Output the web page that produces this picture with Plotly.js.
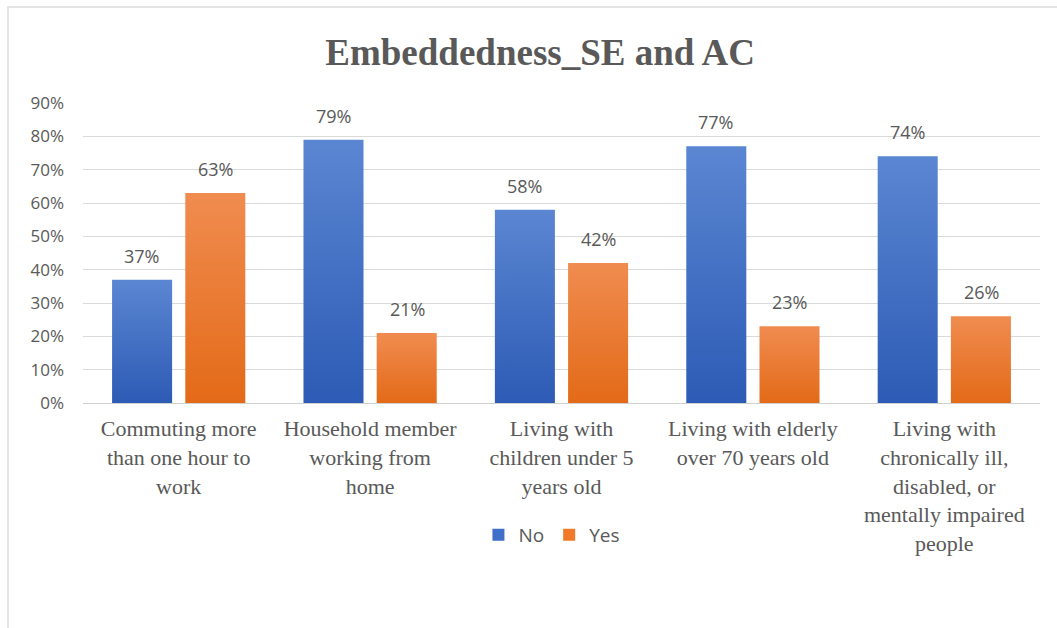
<!DOCTYPE html>
<html>
<head>
<meta charset="utf-8">
<script src="https://cdn.plot.ly/plotly-3.0.1.min.js"></script>
<style>
  html, body { margin: 0; padding: 0; background: #fff; }
  #wrap { position: relative; width: 1057px; height: 628px; }
  #chart { width: 1057px; height: 628px; }
  #frame { position: absolute; left: 7px; top: 6px; right: -4px; bottom: -4px;
           border-top: 2px solid #e4e4e4; border-left: 2px solid #e4e4e4; pointer-events: none; }
</style>
</head>
<body>
<div id="wrap">
  <div id="chart"></div>
  <div id="frame"></div>
</div>
<script>
// Survey categories and shares of respondents
const categories = [
  "Commuting more<br>than one hour to<br>work",
  "Household member<br>working from<br>home",
  "Living with<br>children under 5<br>years old",
  "Living with elderly<br>over 70 years old",
  "Living with<br>chronically ill,<br>disabled, or<br>mentally impaired<br>people"
];
const noValues  = [0.37, 0.79, 0.58, 0.77, 0.74];
const yesValues = [0.63, 0.21, 0.42, 0.23, 0.26];
const seriesNames = ["No", "Yes"];
const yTicks = [0, 0.1, 0.2, 0.3, 0.4, 0.5, 0.6, 0.7, 0.8, 0.9];

const blue = "#3f6fcb";
const orange = "#f07a2a";
const sansFamily = "Open Sans, Liberation Sans, sans-serif";
const serifFamily = "Liberation Serif, Times New Roman, serif";
const labelFont = { family: sansFamily, size: 18, color: "#595959" };

const traces = [
  { type: "bar", name: seriesNames[0], x: categories, y: noValues, marker: { color: blue }, hoverinfo: "skip" },
  { type: "bar", name: seriesNames[1], x: categories, y: yesValues, marker: { color: orange }, hoverinfo: "skip" }
];

// value labels above each bar, shifted to the bar's slot in the group
const annotations = [];
const slotShift = 37;
[noValues, yesValues].forEach((vals, s) => {
  vals.forEach((v, i) => {
    annotations.push({
      x: categories[i], y: v, xref: "x", yref: "y",
      text: Math.round(v * 100) + "%",
      showarrow: false, yanchor: "bottom", yshift: 10,
      xshift: s === 0 ? -slotShift : slotShift,
      font: labelFont
    });
  });
});

const layout = {
  width: 1057, height: 628,
  margin: { l: 83, r: 17, t: 103, b: 225 },
  paper_bgcolor: "#ffffff", plot_bgcolor: "#ffffff",
  title: {
    text: "<b>Embeddedness_SE and AC</b>",
    font: { family: serifFamily, size: 37, color: "#595959" },
    x: 0.511, xref: "container", xanchor: "center",
    y: 0.917, yref: "container", yanchor: "middle"
  },
  barmode: "group",
  bargap: 0.235,
  bargroupgap: 0.18,
  xaxis: {
    tickfont: { family: serifFamily, size: 22, color: "#595959" },
    showline: true, linecolor: "#d0d0d0", linewidth: 1,
    ticks: "", showgrid: false, fixedrange: true, ticklabelstandoff: 6
  },
  yaxis: {
    range: [0, 0.9], tickvals: yTicks, tickformat: ".0%",
    tickfont: { family: sansFamily, size: 17, color: "#595959" },
    gridcolor: "#dadada", gridwidth: 1, zeroline: false,
    showline: false, ticks: "", ticklabelstandoff: 18, fixedrange: true
  },
  legend: {
    orientation: "h", x: 0.49, xanchor: "center", y: -0.44, yanchor: "middle",
    font: { family: sansFamily, size: 19, color: "#595959" },
    itemwidth: 30, traceorder: "normal"
  },
  annotations: annotations,
  showlegend: true
};

Plotly.newPlot("chart", traces, layout, { displayModeBar: false, staticPlot: true }).then(gd => {
  // soft vertical gradient on the bars, lighter at the top
  const svg = gd.querySelector("svg.main-svg");
  const ns = "http://www.w3.org/2000/svg";
  let defs = svg.querySelector("defs");
  if (!defs) { defs = document.createElementNS(ns, "defs"); svg.insertBefore(defs, svg.firstChild); }
  const grads = [["gradNo", "#5b86d2", "#2d5bb5"], ["gradYes", "#f08c50", "#e36a18"]];
  grads.forEach(([id, top, bottom]) => {
    const g = document.createElementNS(ns, "linearGradient");
    g.setAttribute("id", id);
    g.setAttribute("x1", "0"); g.setAttribute("y1", "0");
    g.setAttribute("x2", "0"); g.setAttribute("y2", "1");
    [[0, top], [1, bottom]].forEach(([o, c]) => {
      const st = document.createElementNS(ns, "stop");
      st.setAttribute("offset", o); st.setAttribute("stop-color", c);
      g.appendChild(st);
    });
    defs.appendChild(g);
  });
  gd.querySelectorAll(".barlayer .trace").forEach((tr, k) => {
    tr.querySelectorAll("path").forEach(p => { p.style.fill = "url(#" + grads[k][0] + ")"; });
  });
});
</script>
</body>
</html>
